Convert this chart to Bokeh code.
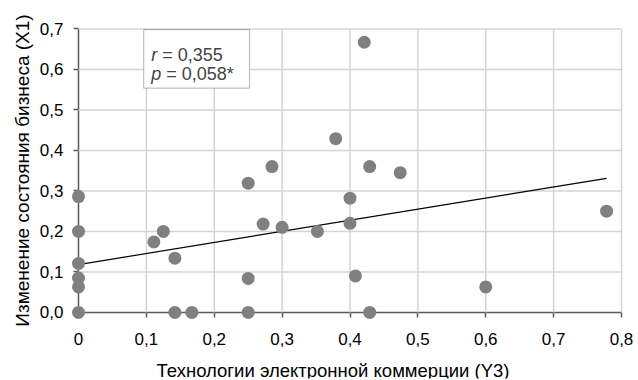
from bokeh.plotting import figure
from bokeh.models import Range1d, LinearAxis, FixedTicker, Label, BoxAnnotation
from bokeh.embed import file_html
from bokeh.resources import INLINE

# ---- data ----
x_vals = [0, 0, 0, 0, 0, 0,
          0.111, 0.125, 0.142, 0.142, 0.167,
          0.250, 0.250, 0.250, 0.272, 0.285, 0.300, 0.352, 0.379,
          0.400, 0.400, 0.408, 0.421, 0.429, 0.429, 0.474, 0.600, 0.778]
y_vals = [0.286, 0.200, 0.121, 0.085, 0.063, 0.0,
          0.174, 0.200, 0.134, 0.0, 0.0,
          0.319, 0.084, 0.0, 0.218, 0.360, 0.210, 0.200, 0.429,
          0.282, 0.220, 0.090, 0.667, 0.360, 0.0, 0.345, 0.063, 0.250]
trend_x = [0, 0.778]
trend_y = [0.118, 0.331]

x_ticks = [0, 0.1, 0.2, 0.3, 0.4, 0.5, 0.6, 0.7, 0.8]
x_tick_labels = ["0", "0,1", "0,2", "0,3", "0,4", "0,5", "0,6", "0,7", "0,8"]
y_ticks = [0, 0.1, 0.2, 0.3, 0.4, 0.5, 0.6, 0.7]
y_tick_labels = ["0,0", "0,1", "0,2", "0,3", "0,4", "0,5", "0,6", "0,7"]

x_title = "Технологии электронной коммерции (Y3)"
y_title = "Изменение состояния бизнеса (X1)"
r_text = "0,355"
p_text = "0,058*"

FONT = "Liberation Sans"
AXIS_COLOR = "#595959"
GRID_COLOR = "#d4d4d4"
LVL = "annotation"

W, H = 638, 380
B = 2  # border around the (large) frame
# pixel placement of the plotting area (x: 0 -> 78px, 0.8 -> 621px; y: 0 -> 311.9px, 0.7 -> 28.3px)
PX_X0, PX_PER_X = 78.0, 678.75
PX_Y0, PX_PER_Y = 311.9, 405.0
x_range = Range1d((B - PX_X0) / PX_PER_X, (W - B - PX_X0) / PX_PER_X)
y_range = Range1d(-(H - B - PX_Y0) / PX_PER_Y, (PX_Y0 - B) / PX_PER_Y)
x_lo, x_hi = x_ticks[0], x_ticks[-1]
y_lo, y_hi = y_ticks[0], y_ticks[-1]

p = figure(width=W, height=H, output_backend="svg", toolbar_location=None,
           x_range=x_range, y_range=y_range,
           x_axis_location=None, y_axis_location=None,
           min_border_left=B, min_border_right=B, min_border_top=B,
           min_border_bottom=B)
p.frame_width = W - 2 * B
p.frame_height = H - 2 * B
p.outline_line_color = None
p.background_fill_color = "white"
p.border_fill_color = "white"
p.grid.visible = False

xaxis = LinearAxis(ticker=FixedTicker(ticks=x_ticks), fixed_location=0,
                   bounds=(x_lo, x_hi))
yaxis = LinearAxis(ticker=FixedTicker(ticks=y_ticks), fixed_location=0,
                   bounds=(y_lo, y_hi), axis_label=y_title)
xaxis.major_label_overrides = dict(zip(x_ticks, x_tick_labels))
yaxis.major_label_overrides = dict(zip(y_ticks, y_tick_labels))
for ax in (xaxis, yaxis):
    ax.axis_line_color = AXIS_COLOR
    ax.axis_line_width = 1.5
    ax.major_tick_line_color = AXIS_COLOR
    ax.major_tick_line_width = 1.5
    ax.major_tick_out = 5
    ax.major_tick_in = 0
    ax.minor_tick_line_color = None
    ax.major_label_text_font = FONT
    ax.major_label_text_font_size = "17px"
    ax.major_label_text_color = "black"
    ax.axis_label_text_font = FONT
    ax.axis_label_text_font_size = "19px"
    ax.axis_label_text_font_style = "normal"
    ax.axis_label_text_color = "black"
xaxis.major_label_standoff = 16
yaxis.major_label_standoff = 10
yaxis.axis_label_standoff = 4
p.add_layout(xaxis, "below")
p.add_layout(yaxis, "left")

# light grid lines (skip the ones lying on the axes), painted before the data
gx = x_ticks[1:]
gy = y_ticks[1:]
p.segment(x0=gx, y0=[y_lo] * len(gx), x1=gx, y1=[y_hi] * len(gx),
          line_color=GRID_COLOR, line_width=1.5, level=LVL)
p.segment(x0=[x_lo] * len(gy), y0=gy, x1=[x_hi] * len(gy), y1=gy,
          line_color=GRID_COLOR, line_width=1.5, level=LVL)

p.line(trend_x, trend_y, line_color="black", line_width=1.2, level=LVL)
p.scatter(x_vals, y_vals, size=13, fill_color="#808080", line_color=None, level=LVL)

# x axis title, centred as in the reference
p.add_layout(Label(x=0.375, y=-0.1425, text=x_title, text_font=FONT,
                   text_font_size="18.5px", text_align="center",
                   text_baseline="middle", text_color="black"))

box = BoxAnnotation(left=0.096, right=0.252, top=0.698, bottom=0.554,
                    fill_color="white", fill_alpha=1.0, line_color="#333333",
                    line_width=1.2, level=LVL)
p.add_layout(box)
for lbl, val, yy, off in (("r", r_text, 0.636, 11), ("p", p_text, 0.589, 15)):
    p.add_layout(Label(x=0.107, y=yy, text=lbl, text_font=FONT,
                       text_font_size="18px", text_font_style="italic",
                       text_baseline="alphabetic"))
    p.add_layout(Label(x=0.107, y=yy, x_offset=off, text="= " + val, text_font=FONT,
                       text_font_size="18px", text_baseline="alphabetic"))

open("out.html", "w").write(file_html(p, INLINE))
